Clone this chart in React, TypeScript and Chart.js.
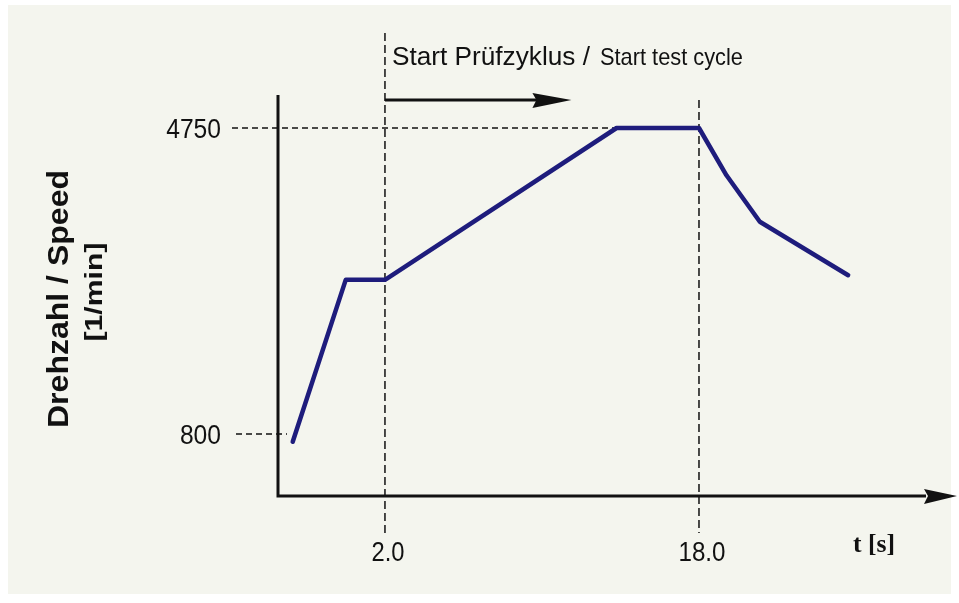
import React, { useEffect, useRef } from "react";
import { Chart, registerables } from "chart.js";

Chart.register(...registerables);

// ---- data ----
const timeValues = [-2.7, 0, 2, 13.8, 18, 19.4, 21.1, 25.6];
const speedValues = [700, 2790, 2790, 4750, 4750, 4140, 3540, 2850];
const xTickValues = [2.0, 18.0];
const xTickLabels = ["2.0", "18.0"];
const yTickValues = [800, 4750];
const yTickLabels = ["800", "4750"];
const xAxisTitle = "t [s]";
const yAxisTitle = "Drehzahl / Speed";
const yAxisUnit = "[1/min]";
const startLabelDe = "Start Prüfzyklus /";
const startLabelEn = "Start test cycle";
const cycleStartTime = 2.0;
const cycleArrowEnd = 11.5;
const cycleArrowLevel = 5110;
const plateauStart = 13.8;

const X_MIN = -3.45;
const X_MAX = 30.28;
const Y_MIN = 0;
const Y_MAX = 5176;

const LINE_COLOR = "#1e1c7c";
const INK = "#111111";
const BG = "#f4f5ee";

function fitText(
  ctx: CanvasRenderingContext2D,
  text: string,
  x: number,
  y: number,
  font: string,
  width: number,
  align: CanvasTextAlign,
  rotate = false
) {
  ctx.save();
  ctx.font = font;
  const w = ctx.measureText(text).width;
  const s = width / w;
  ctx.translate(x, y);
  if (rotate) ctx.rotate(-Math.PI / 2);
  ctx.scale(s, 1);
  ctx.textAlign = align;
  ctx.textBaseline = "alphabetic";
  ctx.fillStyle = INK;
  ctx.fillText(text, 0, 0);
  ctx.restore();
}

const schematicPlugin = {
  id: "schematic",
  beforeDraw(chart: any) {
    const { ctx, chartArea } = chart;
    const xs = chart.scales.x;
    const ys = chart.scales.y;
    ctx.save();
    ctx.fillStyle = "#ffffff";
    ctx.fillRect(0, 0, chart.width, chart.height);
    ctx.fillStyle = BG;
    ctx.fillRect(8, 5, chart.width - 16, chart.height - 14);

    // dashed reference lines
    ctx.strokeStyle = INK;
    ctx.lineWidth = 1.5;
    ctx.setLineDash([8, 4]);
    const x2 = xs.getPixelForValue(xTickValues[0]);
    ctx.beginPath();
    ctx.moveTo(x2, chartArea.top - 62);
    ctx.lineTo(x2, chartArea.bottom + 38);
    ctx.stroke();
    const x18 = xs.getPixelForValue(xTickValues[1]);
    ctx.beginPath();
    ctx.moveTo(x18, chartArea.top + 5);
    ctx.lineTo(x18, chartArea.bottom + 37);
    ctx.stroke();

    ctx.setLineDash([6, 4]);
    const y4750 = ys.getPixelForValue(yTickValues[1]);
    ctx.beginPath();
    ctx.moveTo(chartArea.left - 46, y4750);
    ctx.lineTo(xs.getPixelForValue(plateauStart), y4750);
    ctx.stroke();
    const y800 = ys.getPixelForValue(yTickValues[0]);
    ctx.beginPath();
    ctx.moveTo(chartArea.left - 42, y800);
    ctx.lineTo(chartArea.left + 9, y800);
    ctx.stroke();
    ctx.restore();
  },
  afterDatasetsDraw(chart: any) {
    const { ctx, chartArea } = chart;
    const xs = chart.scales.x;
    const ys = chart.scales.y;
    ctx.save();
    ctx.strokeStyle = INK;
    ctx.fillStyle = INK;
    ctx.lineWidth = 3;
    ctx.setLineDash([]);

    // y axis
    const x0 = chartArea.left;
    const y0 = ys.getPixelForValue(Y_MIN);
    ctx.beginPath();
    ctx.moveTo(x0, chartArea.top);
    ctx.lineTo(x0, y0);
    ctx.lineTo(chartArea.right - 14, y0);
    ctx.stroke();
    // x axis arrow head
    ctx.beginPath();
    ctx.moveTo(chartArea.right + 17, y0);
    ctx.lineTo(chartArea.right - 16, y0 - 7);
    ctx.lineTo(chartArea.right - 12, y0);
    ctx.lineTo(chartArea.right - 16, y0 + 8);
    ctx.closePath();
    ctx.fill();

    // start cycle arrow
    const ax0 = xs.getPixelForValue(cycleStartTime);
    const ax1 = xs.getPixelForValue(cycleArrowEnd);
    const ay = ys.getPixelForValue(cycleArrowLevel);
    ctx.lineWidth = 3;
    ctx.beginPath();
    ctx.moveTo(ax0, ay);
    ctx.lineTo(ax1 - 30, ay);
    ctx.stroke();
    ctx.beginPath();
    ctx.moveTo(ax1, ay);
    ctx.lineTo(ax1 - 39, ay - 7);
    ctx.lineTo(ax1 - 35, ay);
    ctx.lineTo(ax1 - 39, ay + 8);
    ctx.closePath();
    ctx.fill();
    ctx.restore();

    // y tick labels
    yTickValues.forEach((v, i) => {
      const py = ys.getPixelForValue(v);
      const label = yTickLabels[i];
      fitText(ctx, label, chartArea.left - 57, py + 10, "27px 'Liberation Sans', Arial, sans-serif", label.length * 13.7, "right");
    });
    // x tick labels
    xTickValues.forEach((v, i) => {
      const px = xs.getPixelForValue(v);
      const label = xTickLabels[i];
      const w = label.replace(".", "").length * 14 + 5;
      fitText(ctx, label, px + 3, chartArea.bottom + 65, "27px 'Liberation Sans', Arial, sans-serif", w, "center");
    });

    // axis titles
    fitText(ctx, xAxisTitle, 853, 552, "bold 26px 'Liberation Serif', 'Times New Roman', serif", 42, "left");
    fitText(ctx, yAxisTitle, 68, 299, "bold 29px 'Liberation Sans', Arial, sans-serif", 258, "center", true);
    fitText(ctx, yAxisUnit, 102, 292, "bold 24px 'Liberation Sans', Arial, sans-serif", 99, "center", true);

    // start label
    fitText(ctx, startLabelDe, ax0 + 7, 65, "25px 'Liberation Sans', Arial, sans-serif", 198, "left");
    fitText(ctx, startLabelEn, ax0 + 215, 65, "24px 'Liberation Sans', Arial, sans-serif", 143, "left");
  },
};

export default function App() {
  const canvasRef = useRef<HTMLCanvasElement | null>(null);

  useEffect(() => {
    const canvas = canvasRef.current;
    if (!canvas) return;
    const points = timeValues.map((t, i) => ({ x: t, y: speedValues[i] }));
    const chart = new Chart(canvas, {
      type: "line",
      data: {
        datasets: [
          {
            label: "Drehzahl",
            data: points,
            borderColor: LINE_COLOR,
            borderWidth: 4.5,
            pointRadius: 0,
            tension: 0,
            fill: false,
            borderJoinStyle: "round",
            borderCapStyle: "round",
          },
        ],
      },
      options: {
        responsive: false,
        animation: false,
        devicePixelRatio: 1,
        layout: { padding: { left: 278, top: 95, right: 19, bottom: 107 } },
        scales: {
          x: { type: "linear", min: X_MIN, max: X_MAX, display: false },
          y: { type: "linear", min: Y_MIN, max: Y_MAX, display: false },
        },
        plugins: {
          legend: { display: false },
          tooltip: { enabled: false },
        },
        events: [],
      },
      plugins: [schematicPlugin],
    });
    return () => chart.destroy();
  }, []);

  return (
    <div style={{ position: "absolute", left: 0, top: 0, width: 959, height: 603, background: "#ffffff" }}>
      <canvas ref={canvasRef} width={959} height={603} style={{ display: "block" }} />
    </div>
  );
}
